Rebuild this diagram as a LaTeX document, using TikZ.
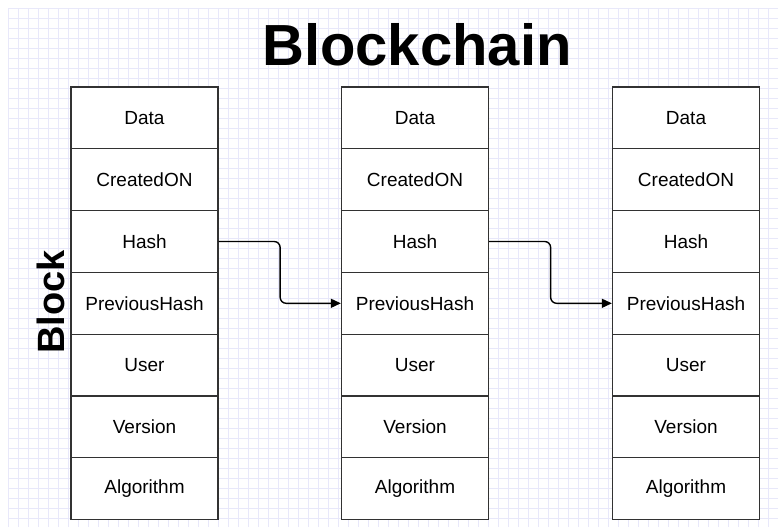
\documentclass[tikz,border=0pt]{standalone}
\usepackage{fontspec}
\setmainfont{Liberation Sans}
\usetikzlibrary{arrows.meta}

\definecolor{gridcol}{RGB}{232,232,250}
\definecolor{edgecol}{RGB}{50,50,50}

\begin{document}
\begin{tikzpicture}[x=1pt,y=-1pt,
  cell/.style={draw=edgecol,line width=1.3pt,fill=white,minimum width=147pt,minimum height=61.8pt,inner sep=0pt,font=\fontsize{19}{19}\selectfont},
  link/.style={-{Triangle[length=10pt,width=9pt]},line width=1.4pt,rounded corners=6pt}]
\useasboundingbox (0,0) rectangle (778,527);
% background grid
\foreach \x in {8,18,...,778}
\draw[gridcol,line width=0.6pt] (\x,8) -- (\x,527);
\foreach \y in {8,18,...,527}
\draw[gridcol,line width=0.6pt] (8,\y) -- (778,\y);
% title and side label
\node[font=\bfseries\fontsize{58}{58}\selectfont] (title) at (417,45) {Blockchain};
\node[rotate=90,font=\bfseries\fontsize{38}{38}\selectfont] (side) at (51,302) {Block};
% three blocks of seven fields
\foreach \c/\x in {1/144.5,2/415,3/686}
\foreach[count=\r] \t in {Data,CreatedON,Hash,PreviousHash,User,Version,Algorithm}
\node[cell] (b\c-\r) at (\x,{87+61.8*(\r-0.5)}) {\t};
% hash -> previous hash
\draw[link] (b1-3.east) -- ([xshift=61.5pt]b1-3.east) |- (b2-4.west);
\draw[link] (b2-3.east) -- ([xshift=61.5pt]b2-3.east) |- (b3-4.west);
\end{tikzpicture}
\end{document}
